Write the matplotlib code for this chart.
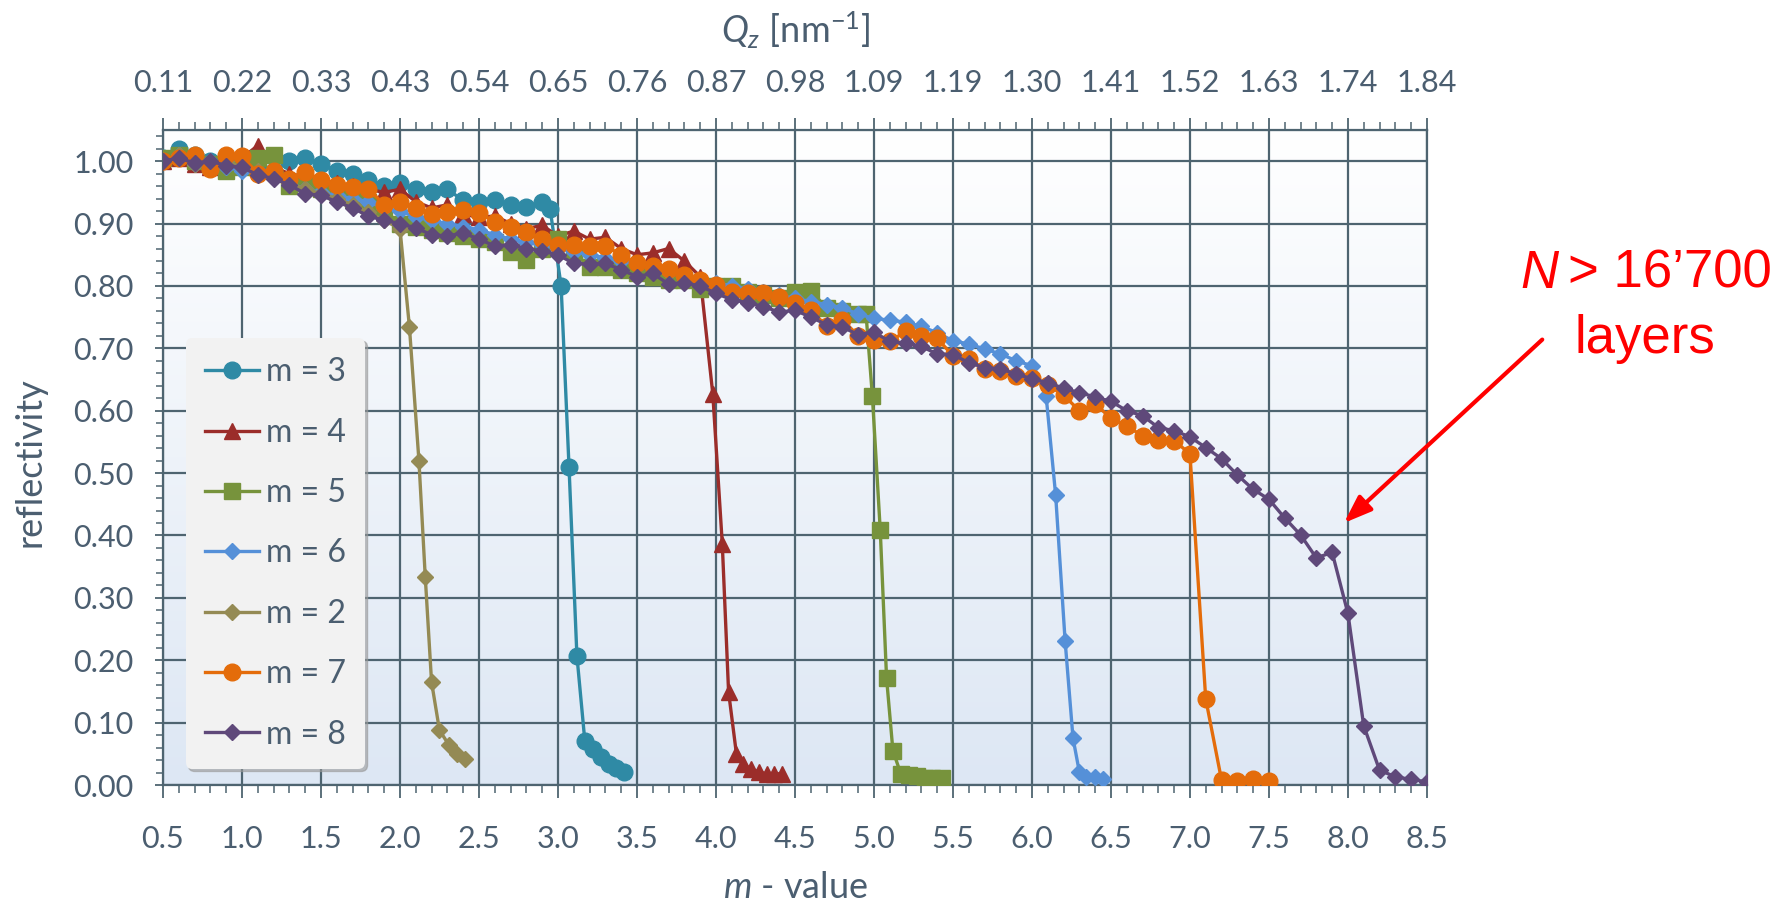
import numpy as np
import matplotlib
matplotlib.use('Agg')
import matplotlib.pyplot as plt
from matplotlib.ticker import MultipleLocator, FormatStrFormatter
from matplotlib.lines import Line2D

plt.rcParams['font.family'] = ['Lato', 'DejaVu Sans']
plt.rcParams['mathtext.fontset'] = 'custom'
plt.rcParams['mathtext.it'] = 'Lato:italic'
plt.rcParams['mathtext.rm'] = 'Lato'

# common m sampling grid (0.1 steps)
m_grid = [0.5, 0.6, 0.7, 0.8, 0.9, 1.0, 1.1, 1.2, 1.3, 1.4,
          1.5, 1.6, 1.7, 1.8, 1.9, 2.0, 2.1, 2.2, 2.3, 2.4,
          2.5, 2.6, 2.7, 2.8, 2.9, 3.0, 3.1, 3.2, 3.3, 3.4,
          3.5, 3.6, 3.7, 3.8, 3.9, 4.0, 4.1, 4.2, 4.3, 4.4,
          4.5, 4.6, 4.7, 4.8, 4.9, 5.0, 5.1, 5.2, 5.3, 5.4,
          5.5, 5.6, 5.7, 5.8, 5.9, 6.0, 6.1, 6.2, 6.3, 6.4,
          6.5, 6.6, 6.7, 6.8, 6.9, 7.0, 7.1, 7.2, 7.3, 7.4,
          7.5, 7.6, 7.7, 7.8, 7.9, 8.0, 8.1, 8.2, 8.3, 8.4,
          8.5]

# m = 2
m2_x = m_grid[:16] + [2.06, 2.12, 2.16, 2.20, 2.25, 2.31, 2.36, 2.41]
m2_y = [1.00, 1.01, 0.995, 0.99, 1.00, 0.99, 0.985, 0.975, 0.965, 0.955,
        0.948, 0.94, 0.93, 0.918, 0.905, 0.892,
        0.734, 0.52, 0.334, 0.165, 0.088, 0.064, 0.049, 0.041]

# m = 3
m3_x = m_grid[:25] + [2.95, 3.02, 3.07, 3.12, 3.17, 3.22, 3.27, 3.32, 3.37, 3.42]
m3_y = [1.005, 1.02, 1.01, 1.00, 1.005, 0.995, 0.99, 0.985, 1.00, 1.005,
        0.995, 0.985, 0.98, 0.97, 0.96, 0.965, 0.955, 0.95, 0.955, 0.937,
        0.935, 0.938, 0.93, 0.926, 0.934,
        0.924, 0.80, 0.51, 0.207, 0.071, 0.057, 0.045, 0.033, 0.027, 0.021]

# m = 4
m4_x = m_grid[:35] + [3.98, 4.04, 4.08, 4.13, 4.17, 4.22, 4.27, 4.32, 4.37, 4.42]
m4_y = [1.00, 1.005, 0.995, 0.99, 1.00, 1.005, 1.025, 0.99, 0.98, 0.975,
        0.97, 0.965, 0.96, 0.955, 0.95, 0.955, 0.935, 0.925, 0.93, 0.915,
        0.91, 0.912, 0.90, 0.892, 0.897, 0.88, 0.888, 0.875, 0.878, 0.86,
        0.85, 0.853, 0.86, 0.84, 0.815,
        0.627, 0.387, 0.149, 0.049, 0.034, 0.026, 0.021, 0.018, 0.018, 0.018]

# m = 5
m5_x = m_grid[:45] + [4.95, 4.99, 5.04, 5.08, 5.12, 5.17, 5.22, 5.27, 5.32, 5.37, 5.43]
m5_y = [1.005, 1.01, 1.00, 0.995, 0.985, 0.99, 1.005, 1.01, 0.96, 0.965,
        0.955, 0.95, 0.94, 0.935, 0.92, 0.90, 0.895, 0.89, 0.885, 0.88,
        0.875, 0.87, 0.855, 0.842, 0.86, 0.875, 0.855, 0.83, 0.83, 0.825,
        0.82, 0.815, 0.81, 0.81, 0.795, 0.80, 0.80, 0.79, 0.785, 0.78,
        0.79, 0.792, 0.765, 0.76, 0.755,
        0.755, 0.624, 0.408, 0.171, 0.055, 0.018, 0.016, 0.014, 0.012, 0.012, 0.011]

# m = 6
m6_x = m_grid[:56] + [6.09, 6.15, 6.21, 6.26, 6.30, 6.34, 6.40, 6.45]
m6_y = [1.00, 1.01, 0.995, 1.00, 0.99, 0.985, 0.98, 0.975, 0.965, 0.955,
        0.95, 0.945, 0.94, 0.935, 0.925, 0.92, 0.91, 0.905, 0.90, 0.895,
        0.89, 0.882, 0.875, 0.87, 0.865, 0.86, 0.855, 0.85, 0.845, 0.84,
        0.835, 0.83, 0.822, 0.815, 0.81, 0.805, 0.80, 0.795, 0.79, 0.785,
        0.78, 0.775, 0.77, 0.765, 0.755, 0.748, 0.745, 0.742, 0.735, 0.725,
        0.712, 0.707, 0.699, 0.691, 0.68, 0.672,
        0.623, 0.465, 0.231, 0.075, 0.021, 0.013, 0.013, 0.009]

# m = 7
m7_x = m_grid[:71]
m7_y = [1.00, 1.005, 1.01, 0.988, 1.01, 1.008, 0.98, 0.985, 0.972, 0.983,
        0.97, 0.962, 0.958, 0.956, 0.93, 0.935, 0.925, 0.915, 0.918, 0.921,
        0.917, 0.903, 0.895, 0.887, 0.876, 0.866, 0.865, 0.864, 0.864, 0.85,
        0.836, 0.832, 0.827, 0.818, 0.81, 0.801, 0.791, 0.789, 0.789, 0.783,
        0.772, 0.762, 0.735, 0.746, 0.72, 0.714, 0.711, 0.727, 0.72, 0.716,
        0.688, 0.683, 0.667, 0.664, 0.656, 0.653, 0.641, 0.625, 0.60, 0.611,
        0.588, 0.575, 0.56, 0.553, 0.552, 0.531, 0.138, 0.008, 0.006, 0.009,
        0.006]

# m = 8
m8_x = m_grid
m8_y = [1.00, 1.005, 0.997, 1.00, 0.993, 0.99, 0.978, 0.972, 0.962, 0.948,
        0.945, 0.935, 0.925, 0.912, 0.905, 0.90, 0.893, 0.882, 0.88, 0.885,
        0.875, 0.864, 0.866, 0.86, 0.856, 0.85, 0.836, 0.835, 0.836, 0.826,
        0.815, 0.82, 0.803, 0.805, 0.80, 0.788, 0.778, 0.773, 0.767, 0.758,
        0.761, 0.75, 0.738, 0.734, 0.722, 0.726, 0.711, 0.708, 0.703, 0.691,
        0.69, 0.677, 0.669, 0.667, 0.659, 0.651, 0.645, 0.636, 0.629, 0.622,
        0.615, 0.60, 0.592, 0.573, 0.568, 0.558, 0.541, 0.523, 0.497, 0.474,
        0.458, 0.428, 0.401, 0.364, 0.373, 0.275, 0.095, 0.024, 0.013, 0.009,
        0.005]

m_ticks = [0.5, 1.0, 1.5, 2.0, 2.5, 3.0, 3.5, 4.0, 4.5, 5.0, 5.5, 6.0, 6.5, 7.0, 7.5, 8.0, 8.5]
qz_labels = ['0.11', '0.22', '0.33', '0.43', '0.54', '0.65', '0.76', '0.87', '0.98',
             '1.09', '1.19', '1.30', '1.41', '1.52', '1.63', '1.74', '1.84']

series = [
    ('m = 3', m3_x, m3_y, '#2F8AA5', 'o', 12),
    ('m = 4', m4_x, m4_y, '#9B2D2A', '^', 11),
    ('m = 5', m5_x, m5_y, '#77933C', 's', 11),
    ('m = 6', m6_x, m6_y, '#5590D8', 'D', 8),
    ('m = 2', m2_x, m2_y, '#948A54', 'D', 8),
    ('m = 7', m7_x, m7_y, '#E46C0A', 'o', 12),
    ('m = 8', m8_x, m8_y, '#5F497A', 'D', 8.5),
]

txt_col = '#4B5E70'
grid_col = '#4E6470'

fig = plt.figure(figsize=(17.87, 9.07), dpi=100)
ax = fig.add_axes([0.0912, 0.1345, 0.7073, 0.7222])

# gradient background of the plot area
grad = np.linspace(0, 1, 256).reshape(-1, 1)
cmap = matplotlib.colors.LinearSegmentedColormap.from_list('bg', ['#DDE7F4', '#FFFFFF'])
ax.imshow(grad, extent=[0, 1, 0, 1], transform=ax.transAxes, cmap=cmap,
          aspect='auto', origin='lower', zorder=0)

for lab, x, y, c, mk, ms in series:
    ax.plot(x, y, color=c, lw=2.4, marker=mk, ms=ms, mfc=c, mec=c, label=lab, zorder=3)

ax.set_xlim(0.5, 8.5)
ax.set_ylim(0, 1.05)
ax.set_xticks(m_ticks)
ax.xaxis.set_major_formatter(FormatStrFormatter('%.1f'))
ax.xaxis.set_minor_locator(MultipleLocator(0.1))
ax.yaxis.set_major_locator(MultipleLocator(0.1))
ax.yaxis.set_minor_locator(MultipleLocator(0.02))
ax.yaxis.set_major_formatter(FormatStrFormatter('%.2f'))
ax.grid(which='major', color=grid_col, lw=1.6, zorder=1)
ax.set_axisbelow(True)
for sp in ax.spines.values():
    sp.set_color(grid_col)
    sp.set_linewidth(1.6)

ax.tick_params(axis='x', which='major', direction='out', length=9, width=1.3,
               color=grid_col, labelsize=22, labelcolor=txt_col, pad=20)
ax.tick_params(axis='x', which='minor', direction='out', length=6, width=1.1, color=grid_col)
ax.tick_params(axis='y', which='major', direction='out', length=6, width=1.3,
               color=grid_col, labelsize=22, labelcolor=txt_col, pad=15)
ax.tick_params(axis='y', which='minor', direction='out', length=5, width=1.1, color=grid_col)

top = ax.secondary_xaxis('top')
top.set_xticks(m_ticks, labels=qz_labels)
top.xaxis.set_minor_locator(MultipleLocator(0.1))
top.tick_params(which='major', direction='out', length=9, width=1.3, color=grid_col,
                labelsize=22, labelcolor=txt_col, pad=15)
top.tick_params(which='minor', direction='out', length=6, width=1.1, color=grid_col)
top.spines['top'].set_color(grid_col)

fig.text(0.017, 0.49, 'reflectivity', rotation=90, ha='center', va='center',
         fontsize=26, color=txt_col)
fig.text(0.445, 0.022, '$m$ - value', ha='center', va='center', fontsize=26, color=txt_col)
fig.text(0.445, 0.966, '$Q_z$ [nm$^{-1}$]', ha='center', va='center', fontsize=26, color=txt_col)

handles = [Line2D([], [], color=c, lw=2.4, marker=mk, ms=ms, mfc=c, mec=c)
           for _, _, _, c, mk, ms in series]
labels = [s[0] for s in series]
leg = ax.legend(handles, labels, loc='upper left', bbox_to_anchor=(0.018, 0.682),
                borderaxespad=0, frameon=True, facecolor='#F2F2F2', edgecolor='none',
                framealpha=1, fontsize=23, labelcolor=txt_col, handlelength=1.7,
                handletextpad=0.2, labelspacing=0.95, borderpad=0.6, numpoints=1,
                shadow={'color': '#999999', 'alpha': 0.6})
leg.set_zorder(5)

# annotation
fig.text(1520 / 1787, 1 - 288 / 907, 'N', family=['Liberation Sans'], style='italic',
         fontsize=38, color='#FF0000', ha='left', va='baseline')
fig.text(1772 / 1787, 1 - 288 / 907, '> 16\u2019700', family=['Liberation Sans'],
         fontsize=38, color='#FF0000', ha='right', va='baseline')
fig.text(1645 / 1787, 1 - 353 / 907, 'layers', family=['Liberation Sans'],
         fontsize=38, color='#FF0000', ha='center', va='baseline')
ax.annotate('', xy=(7.975, 0.42), xytext=(9.23, 0.714), xycoords='data',
            textcoords='data', annotation_clip=False,
            arrowprops=dict(arrowstyle='-|>,head_length=0.6,head_width=0.22',
                            mutation_scale=28, color='#FF0000', lw=3,
                            shrinkA=0, shrinkB=0))

fig.savefig('out.png', dpi=100, facecolor='white')
